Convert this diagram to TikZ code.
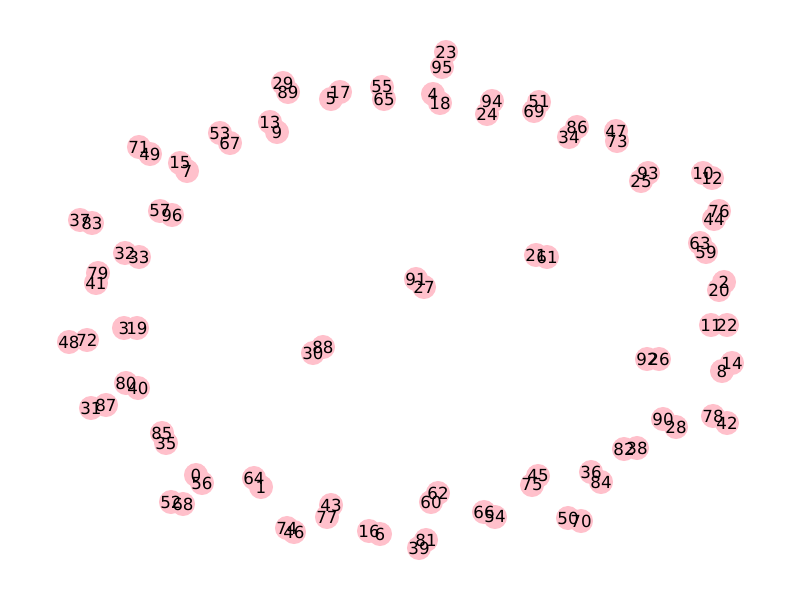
\documentclass[tikz,border=0pt]{standalone}
\usepackage{fontspec}
\setmainfont{DejaVu Sans}
\definecolor{nodepink}{HTML}{FFC0CB}
\def\nodelist{0/196/475,1/261/487,2/724/282,3/124/328,4/433/94,5/331/99,6/380/534,7/187/171,8/722/371,9/277/132,10/703/173,11/711/325,12/712/178,13/270/122,14/732/363,15/180/163,16/369/531,17/340/92,18/440/103,19/137/328,20/719/290,21/536/255,22/727/325,23/446/52,24/487/114,25/641/181,26/659/359,27/424/287,28/676/427,29/283/83,30/313/353,31/91/408,32/125/253,33/139/257,34/569/137,35/166/443,36/591/472,37/80/220,38/637/448,39/419/548,40/138/388,41/96/283,42/727/423,43/331/505,44/714/219,45/538/476,46/294/532,47/616/131,48/69/342,49/150/154,50/568/518,51/539/102,52/171/502,53/220/133,54/495/517,55/382/87,56/202/483,57/160/211,59/706/252,60/431/502,61/547/257,62/438/493,63/700/243,64/254/478,65/384/99,66/484/512,67/230/143,68/183/504,69/534/111,70/581/521,71/139/147,72/87/340,73/617/141,74/287/528,75/532/485,76/719/211,77/327/517,78/713/416,79/98/273,80/126/383,81/426/540,82/624/449,83/92/223,84/601/482,85/162/433,86/577/127,87/106/405,88/323/347,89/288/92,90/663/419,91/416/279,92/647/359,93/648/173,94/492/101,95/442/67,96/172/215}
\begin{document}
\begin{tikzpicture}[x=0.72pt,y=-0.72pt,
  dot/.style={circle,fill=nodepink,draw=none,minimum size=17.3pt,inner sep=0pt},
  lbl/.style={inner sep=0pt,font=\fontsize{12}{14}\selectfont,text=black}]
\useasboundingbox (0,0) rectangle (800,600);
\fill[white] (0,0) rectangle (800,600);
\foreach \i/\x/\y in \nodelist {\node[dot] (n\i) at (\x,\y) {};}
\foreach \i/\x/\y in \nodelist {\node[lbl] (t\i) at (n\i.center) {\i};}
\end{tikzpicture}
\end{document}
